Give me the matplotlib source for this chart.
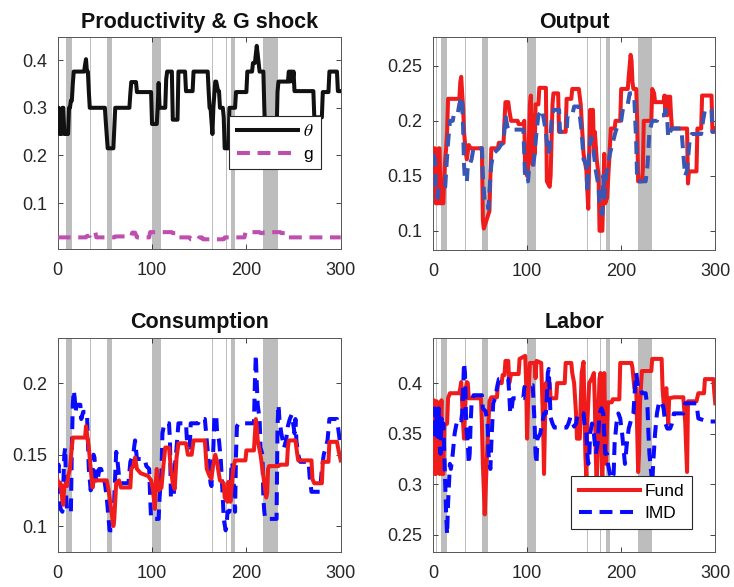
import matplotlib
matplotlib.use('Agg')
import matplotlib.pyplot as plt

plt.rcParams['font.family'] = ['Liberation Sans', 'DejaVu Sans']
plt.rcParams['mathtext.fontset'] = 'stix'

# ---------------- data ----------------
recession_start = [3, 9, 34, 52, 100, 164, 178, 184, 218]
recession_end = [4, 15, 35, 58, 109, 165, 179, 188, 233]

theta_t = [0, 1, 2, 4, 5, 6, 7, 11, 12, 13, 14, 15, 16, 17, 28, 29, 30, 31, 32, 33, 34, 50, 51, 53, 59, 61,
           76, 77, 78, 83, 84, 99, 100, 105, 106, 107, 108, 114, 115, 116, 121, 122, 127, 128, 135, 136, 143,
           144, 159, 160, 161, 162, 164, 165, 167, 168, 170, 171, 172, 175, 176, 177, 181, 182, 188, 189, 200,
           201, 206, 207, 209, 211, 213, 214, 218, 219, 220, 232, 233, 234, 244, 245, 246, 247, 248, 249, 250,
           251, 271, 272, 280, 281, 287, 288, 296, 297, 300]
theta_v = [0.30, 0.30, 0.245, 0.245, 0.30, 0.30, 0.245, 0.245, 0.30, 0.30, 0.315, 0.315, 0.35, 0.376, 0.376,
           0.39, 0.402, 0.376, 0.376, 0.334, 0.30, 0.30, 0.27, 0.215, 0.215, 0.30,
           0.30, 0.33, 0.354, 0.354, 0.333, 0.333, 0.266, 0.266, 0.30, 0.352, 0.30, 0.30, 0.36, 0.376, 0.376,
           0.275, 0.275, 0.376, 0.376, 0.335, 0.335,
           0.376, 0.376, 0.335, 0.30, 0.30, 0.245, 0.30, 0.355, 0.355, 0.335, 0.335, 0.30, 0.30, 0.28, 0.215,
           0.215, 0.30, 0.30, 0.333, 0.333,
           0.376, 0.376, 0.394, 0.394, 0.43, 0.394, 0.376, 0.376, 0.30, 0.245, 0.245, 0.333, 0.355, 0.355,
           0.376, 0.355, 0.376, 0.376, 0.355, 0.376,
           0.335, 0.335, 0.28, 0.28, 0.333, 0.333, 0.376, 0.376, 0.335, 0.335]

g_t = [0, 30, 31, 34, 35, 40, 41, 60, 61, 78, 79, 82, 84, 97, 98, 121, 122, 127, 128, 140, 141, 149, 150,
       153, 154, 176, 177, 198, 199, 214, 215, 218, 219, 236, 237, 244, 245, 300]
g_v = [0.028, 0.028, 0.031, 0.031, 0.038, 0.038, 0.028, 0.028, 0.030, 0.030, 0.038, 0.038, 0.028, 0.028,
       0.039, 0.039, 0.037, 0.037, 0.028, 0.028, 0.024, 0.024, 0.028, 0.028, 0.024, 0.024, 0.028, 0.028,
       0.039, 0.039, 0.037, 0.037, 0.039, 0.039, 0.037, 0.037, 0.028, 0.028]

y_fund_t = [0, 2, 3, 5, 6, 7, 8, 11, 12, 13, 14, 15, 16, 28, 29, 30, 31, 32, 33, 35, 36, 38, 40, 52, 53, 54,
            60, 61, 62, 69, 70, 75, 76, 77, 80, 81, 83, 90, 91, 96, 97, 98, 100, 101, 103, 104, 105, 106, 107,
            108, 109, 112, 113, 120, 121, 124, 125, 127, 128, 133, 134, 141, 142, 147, 148, 155, 157, 160, 163,
            165, 167, 169, 170, 171, 172, 174, 176, 177, 180, 182, 183, 185, 187, 189, 193, 194, 199, 200, 207,
            208, 210, 211, 212, 213, 216, 217, 218, 222, 223, 224, 232, 233, 235, 236, 245, 246, 247, 248, 249,
            250, 251, 252, 253, 254, 270, 271, 272, 280, 281, 285, 286, 296, 297, 300]
y_fund_v = [0.175, 0.175, 0.125, 0.125, 0.175, 0.175, 0.125, 0.125, 0.15, 0.165, 0.175, 0.19, 0.22, 0.22,
            0.235, 0.24, 0.225, 0.212, 0.19, 0.17, 0.165, 0.178, 0.175, 0.175, 0.11, 0.102,
            0.118, 0.15, 0.175, 0.175, 0.18, 0.18, 0.2, 0.217, 0.217, 0.21, 0.2, 0.2, 0.197, 0.197, 0.2, 0.155,
            0.15, 0.155, 0.215, 0.223, 0.17, 0.16, 0.205,
            0.17, 0.215, 0.215, 0.23, 0.23, 0.145, 0.14, 0.15, 0.215, 0.225, 0.225, 0.19, 0.19, 0.22, 0.22,
            0.229, 0.229, 0.215, 0.17, 0.155,
            0.12, 0.21, 0.2, 0.21, 0.175, 0.19, 0.165, 0.15, 0.10, 0.10, 0.17, 0.125, 0.13, 0.16, 0.193, 0.193,
            0.2, 0.2, 0.229, 0.229,
            0.24, 0.26, 0.255, 0.235, 0.229, 0.229, 0.2, 0.145, 0.145, 0.155, 0.2, 0.2, 0.229, 0.225, 0.217,
            0.217, 0.223, 0.21, 0.222, 0.205,
            0.222, 0.21, 0.222, 0.205, 0.193, 0.193, 0.143, 0.154, 0.154, 0.193, 0.193, 0.223, 0.223, 0.19,
            0.193]

y_imd_t = [0, 2, 3, 5, 6, 13, 14, 16, 18, 21, 22, 26, 28, 30, 31, 32, 33, 34, 36, 37, 39, 41, 43, 52, 53, 55,
           58, 59, 61, 62, 64, 70, 72, 75, 77, 79, 80, 96, 97, 98, 101, 102, 106, 108, 110, 112, 116, 118, 120,
           122, 124, 126, 128, 134, 135, 142, 143, 148, 150, 155, 156, 158, 160, 163, 164, 166, 168, 170, 171,
           173, 176, 177, 180, 181, 182, 184, 186, 188, 191, 194, 196, 200, 202, 207, 209, 212, 214, 216, 217,
           226, 228, 230, 233, 238, 240, 246, 247, 249, 250, 252, 254, 264, 266, 268, 270, 273, 275, 285, 287,
           289, 296, 297, 300]
y_imd_v = [0.17, 0.165, 0.135, 0.13, 0.14, 0.14, 0.155, 0.18, 0.2, 0.2, 0.205, 0.205, 0.215, 0.222, 0.215,
           0.195, 0.16, 0.145, 0.145, 0.16, 0.16, 0.165, 0.175, 0.175, 0.15, 0.125,
           0.125, 0.12, 0.15, 0.16, 0.17, 0.175, 0.178, 0.18, 0.205, 0.195, 0.192, 0.192, 0.17, 0.145, 0.145,
           0.155, 0.155, 0.17, 0.19, 0.205, 0.21, 0.2, 0.19,
           0.17, 0.175, 0.2, 0.21, 0.21, 0.19, 0.19, 0.205, 0.205, 0.213, 0.213, 0.205, 0.19, 0.165, 0.16,
           0.135, 0.175, 0.185, 0.18, 0.17,
           0.155, 0.14, 0.12, 0.115, 0.15, 0.13, 0.15, 0.16, 0.17, 0.18, 0.19, 0.195, 0.2, 0.212, 0.215,
           0.225, 0.225, 0.22, 0.18, 0.145,
           0.145, 0.16, 0.19, 0.2, 0.2, 0.205, 0.205, 0.21, 0.2, 0.185, 0.19, 0.193, 0.193, 0.17, 0.15, 0.155,
           0.185, 0.188, 0.188, 0.2,
           0.21, 0.21, 0.19, 0.19]

c_fund_t = [0, 2, 3, 5, 6, 7, 9, 10, 11, 13, 14, 16, 29, 30, 31, 33, 35, 36, 37, 38, 52, 54, 57, 59, 60, 62,
            65, 67, 77, 78, 80, 82, 84, 88, 96, 99, 101, 103, 104, 105, 107, 110, 112, 114, 118, 120, 122, 124,
            126, 128, 136, 138, 142, 144, 156, 158, 161, 163, 164, 167, 169, 170, 172, 176, 177, 180, 181, 183,
            184, 186, 188, 199, 200, 208, 210, 211, 212, 215, 218, 221, 222, 223, 224, 234, 236, 243, 244, 245,
            252, 254, 255, 269, 270, 272, 280, 281, 287, 288, 296, 298, 300]
c_fund_v = [0.132, 0.128, 0.13, 0.118, 0.115, 0.128, 0.13, 0.128, 0.135, 0.14, 0.148, 0.162, 0.162, 0.17,
            0.165, 0.155, 0.14, 0.133, 0.127, 0.132, 0.132, 0.125, 0.11, 0.1, 0.105, 0.13,
            0.132, 0.127, 0.127, 0.14, 0.142, 0.148, 0.14, 0.137, 0.135, 0.132, 0.125, 0.112, 0.13, 0.14,
            0.125, 0.127, 0.142, 0.155, 0.155, 0.14, 0.13, 0.126,
            0.148, 0.158, 0.158, 0.15, 0.15, 0.16, 0.16, 0.14, 0.135, 0.133, 0.14, 0.15, 0.145, 0.14, 0.132,
            0.13, 0.12, 0.117, 0.131, 0.117,
            0.125, 0.14, 0.146, 0.146, 0.153, 0.153, 0.175, 0.17, 0.16, 0.15, 0.135, 0.12, 0.123, 0.14, 0.142,
            0.142, 0.143, 0.143, 0.155, 0.16,
            0.16, 0.15, 0.146, 0.146, 0.133, 0.13, 0.13, 0.145, 0.145, 0.159, 0.159, 0.152, 0.146]

c_imd_t = [0, 1, 2, 3, 5, 6, 7, 8, 9, 10, 14, 15, 16, 17, 18, 19, 20, 24, 25, 27, 31, 32, 33, 35, 36, 38, 39,
           40, 42, 44, 46, 48, 50, 52, 54, 55, 59, 60, 62, 63, 65, 67, 75, 77, 80, 82, 84, 92, 94, 97, 98, 99,
           107, 108, 110, 111, 113, 118, 119, 120, 123, 124, 126, 128, 136, 137, 140, 141, 149, 150, 156, 158,
           160, 162, 163, 165, 166, 168, 169, 171, 173, 175, 176, 178, 179, 180, 182, 183, 184, 185, 187, 188,
           189, 190, 192, 208, 209, 210, 211, 212, 214, 215, 217, 218, 219, 220, 232, 233, 234, 235, 237, 240,
           242, 244, 246, 248, 250, 251, 252, 253, 255, 257, 266, 267, 269, 278, 280, 282, 284, 286, 288, 296,
           298, 300]
c_imd_v = [0.14, 0.143, 0.125, 0.112, 0.11, 0.13, 0.15, 0.155, 0.12, 0.11, 0.11, 0.155, 0.185, 0.195, 0.19,
           0.18, 0.185, 0.185, 0.175, 0.18, 0.18, 0.16, 0.14, 0.125, 0.13, 0.15, 0.148,
           0.135, 0.13, 0.14, 0.14, 0.135, 0.13, 0.12, 0.105, 0.097, 0.097, 0.12, 0.152, 0.148, 0.135, 0.13,
           0.13, 0.145, 0.15, 0.16, 0.147, 0.147, 0.142, 0.14, 0.12, 0.105,
           0.105, 0.12, 0.138, 0.165, 0.172, 0.172, 0.16, 0.12, 0.12, 0.14, 0.155, 0.172, 0.172, 0.16, 0.155,
           0.172, 0.172, 0.175, 0.175, 0.16,
           0.145, 0.13, 0.128, 0.155, 0.175, 0.178, 0.165, 0.16, 0.145, 0.12, 0.105, 0.097, 0.1, 0.11, 0.11,
           0.115, 0.14, 0.145, 0.125, 0.11,
           0.15, 0.17, 0.172, 0.172, 0.2, 0.22, 0.2, 0.185, 0.175, 0.155, 0.15, 0.12, 0.11, 0.105, 0.105,
           0.17, 0.185, 0.175, 0.165, 0.155,
           0.16, 0.17, 0.175, 0.178, 0.17, 0.165, 0.175, 0.16, 0.15, 0.145, 0.145, 0.135, 0.124, 0.124, 0.14,
           0.15, 0.155, 0.16, 0.175, 0.175,
           0.165, 0.155]

l_fund_t = [0, 1, 2, 3, 4, 5, 6, 7, 8, 9, 10, 11, 12, 15, 16, 18, 28, 29, 30, 31, 32, 33, 34, 35, 36, 37, 38,
            51, 52, 53, 55, 57, 59, 60, 62, 68, 69, 73, 74, 76, 77, 80, 81, 83, 91, 92, 98, 99, 100, 101, 102,
            103, 108, 109, 110, 115, 116, 117, 118, 119, 120, 124, 125, 131, 132, 140, 141, 147, 148, 150, 152,
            153, 156, 157, 158, 160, 161, 162, 163, 164, 166, 169, 171, 172, 173, 174, 175, 177, 178, 179, 180,
            181, 182, 183, 184, 185, 186, 190, 191, 198, 199, 211, 212, 214, 216, 218, 219, 220, 222, 232, 233,
            243, 244, 246, 247, 248, 250, 251, 256, 266, 268, 270, 271, 280, 282, 288, 289, 298, 299, 300]
l_fund_v = [0.383, 0.383, 0.31, 0.31, 0.382, 0.38, 0.32, 0.31, 0.36, 0.383, 0.31, 0.31, 0.358, 0.36, 0.385,
            0.39, 0.39, 0.395, 0.401, 0.38, 0.36, 0.345, 0.37, 0.395, 0.401, 0.4, 0.385,
            0.385, 0.36, 0.32, 0.27, 0.32, 0.36, 0.382, 0.386, 0.386, 0.4, 0.4, 0.408, 0.408, 0.422, 0.422,
            0.4, 0.409, 0.409, 0.424, 0.427, 0.4, 0.345, 0.38, 0.4,
            0.42, 0.42, 0.405, 0.422, 0.42, 0.39, 0.36, 0.31, 0.36, 0.4, 0.4, 0.385, 0.385, 0.4, 0.4, 0.42,
            0.42, 0.41, 0.4, 0.37,
            0.345, 0.345, 0.38, 0.41, 0.421, 0.37, 0.327, 0.307, 0.36, 0.4, 0.405, 0.41, 0.38, 0.33, 0.295,
            0.35, 0.405, 0.41, 0.33, 0.3,
            0.36, 0.41, 0.36, 0.32, 0.36, 0.381, 0.381, 0.384, 0.384, 0.42, 0.42, 0.415, 0.395, 0.395, 0.312,
            0.33, 0.38, 0.412, 0.412, 0.424,
            0.424, 0.394, 0.37, 0.39, 0.395, 0.36, 0.385, 0.386, 0.386, 0.362, 0.312, 0.382, 0.382, 0.39,
            0.39, 0.404, 0.404, 0.39, 0.38]

l_imd_t = [0, 1, 2, 3, 4, 5, 6, 7, 8, 9, 10, 11, 12, 13, 14, 15, 16, 17, 18, 19, 21, 23, 25, 28, 30, 31, 32,
           33, 34, 35, 36, 37, 38, 39, 40, 41, 43, 52, 53, 56, 58, 59, 60, 61, 62, 63, 64, 66, 68, 70, 80, 81,
           82, 83, 85, 96, 97, 98, 106, 107, 108, 109, 110, 111, 114, 116, 118, 120, 121, 122, 123, 124, 125,
           127, 129, 142, 144, 146, 150, 152, 154, 160, 161, 163, 164, 165, 166, 167, 169, 171, 173, 175, 177,
           179, 181, 182, 183, 185, 186, 188, 190, 192, 193, 195, 197, 199, 201, 204, 206, 208, 211, 213, 215,
           216, 217, 218, 221, 222, 226, 228, 229, 230, 232, 233, 234, 236, 238, 240, 243, 245, 247, 249, 252,
           254, 256, 266, 268, 280, 282, 292, 300]
l_imd_v = [0.36, 0.345, 0.375, 0.35, 0.37, 0.345, 0.375, 0.34, 0.33, 0.365, 0.35, 0.36, 0.33, 0.3, 0.27,
           0.25, 0.28, 0.3, 0.32, 0.315, 0.33, 0.35, 0.36, 0.365, 0.363, 0.37, 0.395,
           0.42, 0.41, 0.37, 0.35, 0.34, 0.32, 0.33, 0.36, 0.38, 0.388, 0.388, 0.375, 0.372, 0.36, 0.33, 0.32,
           0.315, 0.34, 0.36, 0.38, 0.385, 0.395, 0.404, 0.404, 0.39,
           0.372, 0.37, 0.385, 0.385, 0.395, 0.398, 0.398, 0.38, 0.36, 0.33, 0.32, 0.345, 0.35, 0.36, 0.37,
           0.37, 0.385, 0.41, 0.414, 0.39, 0.366,
           0.36, 0.356, 0.356, 0.36, 0.366, 0.357, 0.36, 0.37, 0.37, 0.36, 0.35, 0.33, 0.32, 0.325, 0.35, 0.36,
           0.35, 0.33, 0.34, 0.37,
           0.375, 0.37, 0.35, 0.33, 0.33, 0.32, 0.31, 0.305, 0.31, 0.34, 0.36, 0.37, 0.365, 0.35, 0.32, 0.34,
           0.355, 0.365, 0.37, 0.4,
           0.41, 0.403, 0.395, 0.395, 0.39, 0.39, 0.375, 0.35, 0.33, 0.31, 0.3, 0.32, 0.35, 0.37, 0.38, 0.382,
           0.375, 0.36, 0.355, 0.355,
           0.36, 0.37, 0.37, 0.38, 0.38, 0.365, 0.362, 0.362]

titles = ['Productivity & G shock', 'Output', 'Consumption', 'Labor']
yticks = [[0.1, 0.2, 0.3, 0.4], [0.1, 0.15, 0.2, 0.25], [0.1, 0.15, 0.2], [0.25, 0.3, 0.35, 0.4]]
ytick_labels = [['0.1', '0.2', '0.3', '0.4'], ['0.1', '0.15', '0.2', '0.25'],
                ['0.1', '0.15', '0.2'], ['0.25', '0.3', '0.35', '0.4']]
ylims = [(0.003, 0.448), (0.0825, 0.276), (0.082, 0.232), (0.233, 0.445)]
xticks = [0, 100, 200, 300]
legend1_labels = [r'$\theta$', 'g']
legend4_labels = ['Fund', 'IMD']

# ---------------- style ----------------
BAR = '#bdbdbd'
RED = '#f01c1c'
BLUE_OUT = '#3a56b4'
BLUE = '#0a0aff'
DARK = '#262626'
LW = 2.9
DASH = (3.2, 1.9)

fig = plt.figure(figsize=(7.34, 5.87), dpi=100)
positions = [[0.0786, 0.5753, 0.3856, 0.3612],
             [0.5899, 0.5741, 0.3846, 0.3624],
             [0.0786, 0.0601, 0.3856, 0.3646],
             [0.5899, 0.0601, 0.3846, 0.3646]]
axes = [fig.add_axes(p) for p in positions]

for i, ax in enumerate(axes):
    for s, e in zip(recession_start, recession_end):
        ax.axvspan(s, e, color=BAR, lw=0, zorder=0)
    ax.set_xlim(0, 300)
    ax.set_ylim(*ylims[i])
    ax.set_xticks(xticks)
    ax.set_xticklabels([str(x) for x in xticks])
    ax.set_yticks(yticks[i])
    ax.set_yticklabels(ytick_labels[i])
    ax.tick_params(axis='both', direction='in', top=True, right=True, length=3.5, width=0.6,
                   color=DARK, labelcolor=DARK, labelsize=13)
    ax.tick_params(axis='x', pad=9.5)
    ax.tick_params(axis='y', pad=7.5)
    for sp in ax.spines.values():
        sp.set_color('#555555')
        sp.set_linewidth(0.7)
    ax.set_title(titles[i], fontsize=15.5, fontweight='bold', color='#111111', pad=7)

ax1, ax2, ax3, ax4 = axes
ax1.plot(theta_t, theta_v, color='#111111', lw=LW, label=legend1_labels[0], zorder=3)
ax1.plot(g_t, g_v, color='#bf4fae', lw=LW, ls=(0, DASH), label=legend1_labels[1], zorder=3)
leg1 = ax1.legend(loc='upper left', bbox_to_anchor=(0.6064, 0.6302), borderaxespad=0, fontsize=12.5,
                  handlelength=3.5, handletextpad=0.3, labelspacing=0.4, borderpad=0.45,
                  fancybox=False, framealpha=1, edgecolor=DARK)
leg1.get_frame().set_linewidth(0.8)

ax2.plot(y_fund_t, y_fund_v, color=RED, lw=LW, zorder=3)
ax2.plot(y_imd_t, y_imd_v, color=BLUE_OUT, lw=LW, ls=(0, DASH), zorder=4)

ax3.plot(c_imd_t, c_imd_v, color=BLUE, lw=LW, ls=(0, DASH), zorder=3)
ax3.plot(c_fund_t, c_fund_v, color=RED, lw=LW, zorder=4)

ax4.plot(l_fund_t, l_fund_v, color=RED, lw=LW, label=legend4_labels[0], zorder=3)
ax4.plot(l_imd_t, l_imd_v, color=BLUE, lw=LW, ls=(0, DASH), label=legend4_labels[1], zorder=4)
leg4 = ax4.legend(loc='upper left', bbox_to_anchor=(0.4888, 0.3537), borderaxespad=0, fontsize=12.5,
                  handlelength=3.5, handletextpad=0.3, labelspacing=0.4, borderpad=0.45,
                  fancybox=False, framealpha=1, edgecolor=DARK)
leg4.get_frame().set_linewidth(0.8)

fig.savefig('out.png', dpi=100)
